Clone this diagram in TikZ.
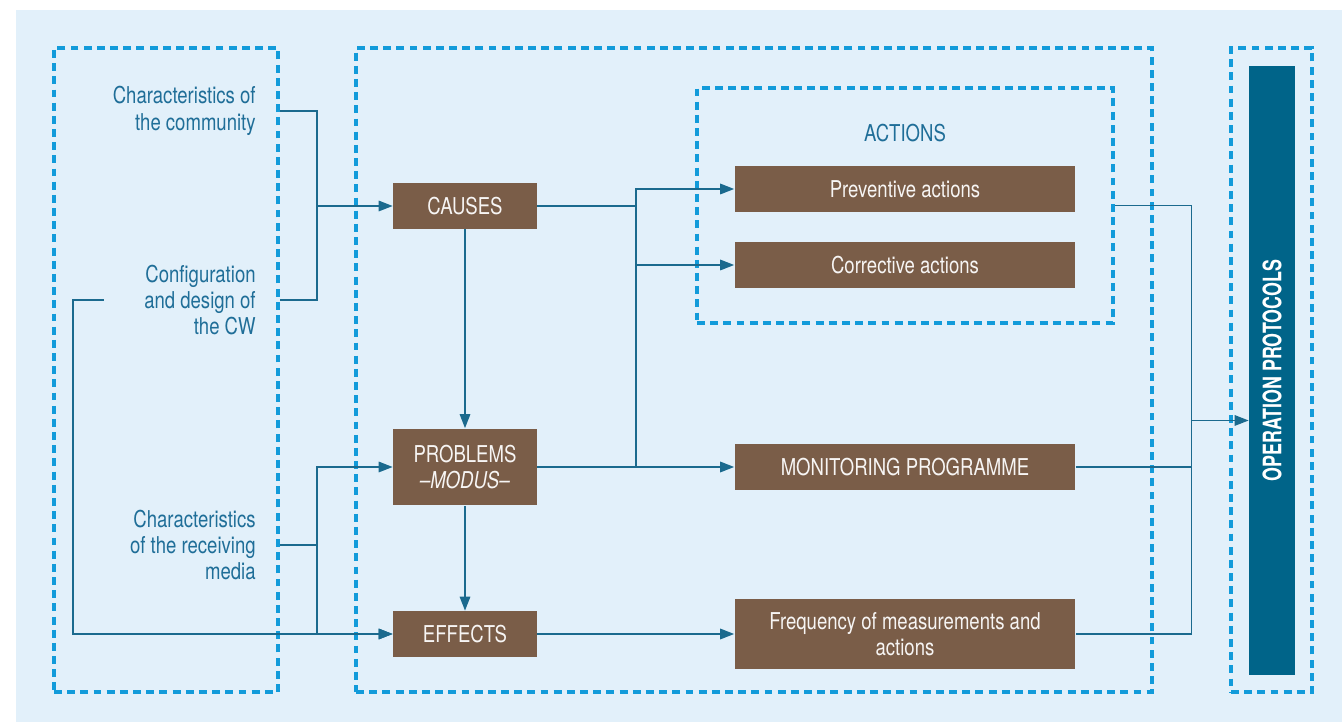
\documentclass[tikz,border=0pt]{standalone}
\usepackage{fontspec}
\setmainfont{TeX Gyre Heros}[FakeStretch=0.8]
\newfontfamily\barfont{TeX Gyre Heros}[FakeStretch=0.7]
\usetikzlibrary{positioning, arrows.meta, calc}
\definecolor{azulfondo}{HTML}{E2F0FA}
\definecolor{azulguion}{HTML}{129BDA}
\definecolor{azullinea}{HTML}{1B6A8E}
\definecolor{azultexto}{HTML}{1F6E98}
\definecolor{cafe}{HTML}{7A5D48}
\definecolor{azulbarra}{HTML}{006489}
\tikzset{
  marco/.style={rectangle, draw=azulguion, line width=1.9pt, dash pattern=on 4.5pt off 3pt, inner sep=0pt},
  caja/.style={rectangle, fill=cafe, text=white!94!cafe, minimum width=2.88cm, minimum height=0.92cm, inner sep=0pt, align=center},
  accion/.style={caja, minimum width=6.82cm},
  etiqueta/.style={text=azultexto, anchor=east, align=right, inner sep=0pt},
  conector/.style={draw=azullinea, line width=0.9pt},
  flecha/.style={conector, -{Triangle[length=8pt,width=6pt]}}
}
\begin{document}
\begin{tikzpicture}[
            x=0.02cm, y=-0.02cm,
            every node/.style={font=\fontsize{13.2}{15}\selectfont}
        ]
            \useasboundingbox (0,0) rectangle (1342,722);
            \fill [azulfondo] (16,10) rectangle (1342,722);

            % Marcos punteados
            \node (izq) [marco, minimum width=4.48cm, minimum height=12.88cm] at (166,370) {};
            \node (centro) [marco, minimum width=15.92cm, minimum height=12.88cm] at (754,370) {};
            \node (der) [marco, minimum width=1.62cm, minimum height=12.88cm] at (1271.5,370) {};
            \node (acciones) [marco, minimum width=8.32cm, minimum height=4.7cm] at (905,205.5) {};
            \node (titulo) [text=azultexto] at (905,133) {ACTIONS};

            % Factores de entrada
            \node (comm) [etiqueta] at (256,111) {Characteristics of\\the community};
            \node (config) [etiqueta] at (256,300) {Configuration\\and design of\\the CW};
            \node (media) [etiqueta] at (256,545) {Characteristics\\of the receiving\\media};

            % Cajas principales
            \node (causes) [caja] at (465,206) {CAUSES};
            \node (problems) [caja, minimum height=1.54cm] at (465,467) {PROBLEMS\\\textit{–MODUS–}};
            \node (effects) [caja] at (465,634) {EFFECTS};
            \node (prev) [accion] at (905,189) {Preventive actions};
            \node (corr) [accion] at (905,265) {Corrective actions};
            \node (monit) [accion] at (905,467) {MONITORING PROGRAMME};
            \node (freq) [accion, minimum height=1.42cm] at (905,634) {Frequency of measurements and\\actions};
            \node (protocolos) [fill=azulbarra, text=white, minimum width=0.92cm, minimum height=12.18cm, inner sep=0pt, font=\fontsize{14.5}{16}\selectfont\barfont\bfseries] at (1272,370.5) {\rotatebox{90}{OPERATION PROTOCOLS}};

            % Puntos de reparto
            \coordinate (busL) at ($(izq.east)!0.5!(centro.west)$);
            \coordinate (busM) at ($(causes.east)!0.5!(prev.west)$);
            \coordinate (busR) at ($(centro.east)!0.5!(der.west)$);
            \coordinate (entrada) at ([yshift=-1cm]protocolos.west);

            % Flechas de la izquierda
            \draw [conector] (izq.east |- comm) -| (busL |- config) -- (izq.east |- config);
            \draw [flecha] (busL |- causes) -- (causes.west);
            \draw [conector] (izq.east |- media) -- (busL |- media);
            \draw [flecha] (busL |- media) |- (problems.west);
            \draw [flecha] (busL |- media) |- (effects.west);
            \draw [flecha] ([xshift=-0.8cm]config.west) -- ++(-31,0) |- (effects.west);

            % Flechas centrales
            \draw [flecha] (causes) -- (problems);
            \draw [flecha] (problems) -- (effects);
            \draw [conector] (causes.east) -- (busM |- causes);
            \draw [flecha] (busM |- problems) -- (busM |- prev) -- (prev.west);
            \draw [flecha] (busM |- corr) -- (corr.west);
            \draw [flecha] (problems.east) -- (monit.west);
            \draw [flecha] (effects.east) -- (freq.west);

            % Hacia los protocolos
            \draw [conector] (acciones.east) -- (busR |- acciones) -- (busR |- freq) -- (freq.east);
            \draw [conector] (monit.east) -- (busR |- monit);
            \draw [flecha] (busR |- entrada) -- (entrada);

        \end{tikzpicture}
\end{document}
